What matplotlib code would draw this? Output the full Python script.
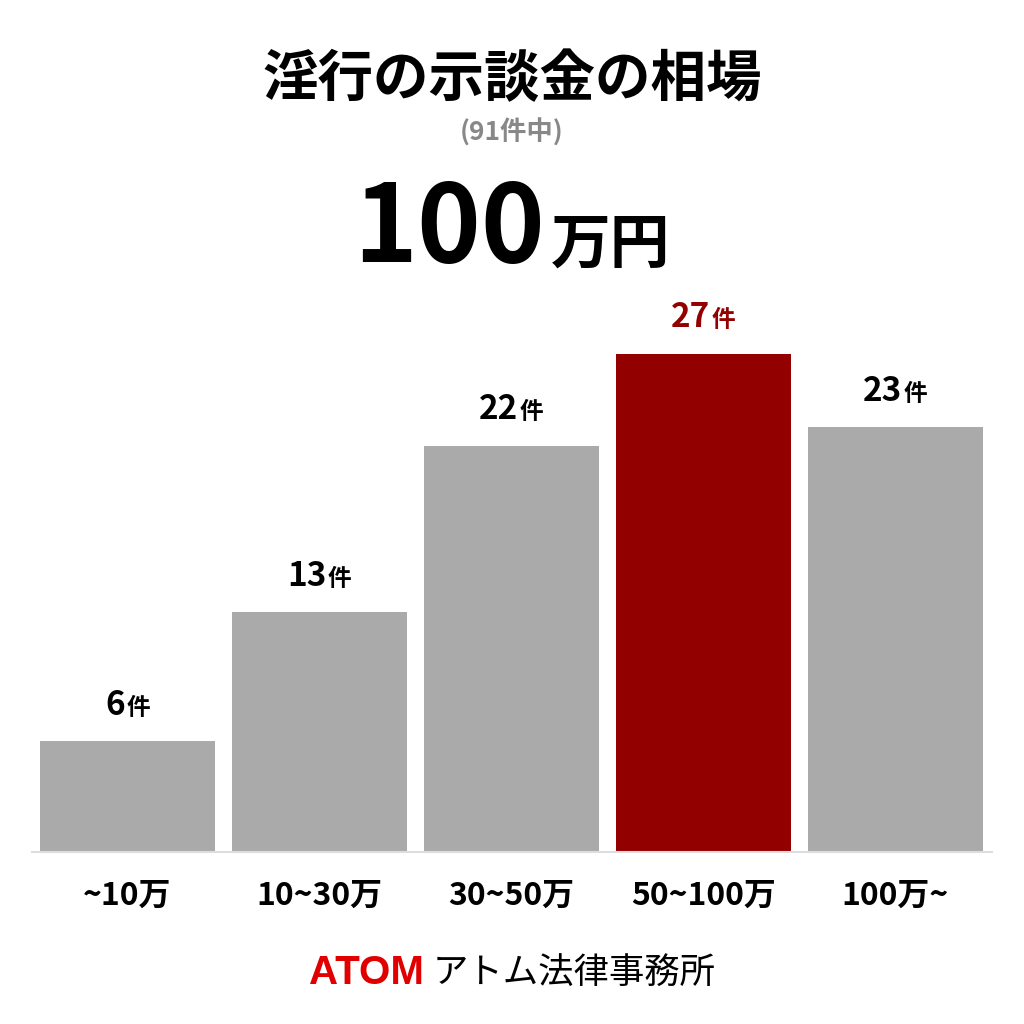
import matplotlib
matplotlib.use("Agg")
import matplotlib.pyplot as plt
from matplotlib.offsetbox import TextArea, HPacker, AnnotationBbox

plt.rcParams['font.family'] = ['Noto Sans CJK JP', 'DejaVu Sans']

# データ
categories = ['~10万', '10~30万', '30~50万', '50~100万', '100万~']
counts = [6, 13, 22, 27, 23]
highlight = 3  # 50~100万

gray = '#aaaaaa'
red = '#930000'

fig = plt.figure(figsize=(10.24, 10.24), dpi=100)
ax = fig.add_axes([31.5 / 1024, 1 - 852 / 1024, 960 / 1024, 552 / 1024])

colors = [red if i == highlight else gray for i in range(len(counts))]
ax.bar(range(len(counts)), counts, width=0.91, color=colors)

ax.set_xlim(-0.5, len(counts) - 0.5)
ax.set_ylim(0, 29.9)
for s in ['top', 'right', 'left']:
    ax.spines[s].set_visible(False)
ax.spines['bottom'].set_color('#dddddd')
ax.spines['bottom'].set_linewidth(1.5)
ax.set_yticks([])
ax.set_xticks(range(len(counts)))
ax.set_xticklabels(categories, fontsize=23, fontweight='bold')
ax.tick_params(axis='x', length=0, pad=20)

# 件数ラベル
for i, v in enumerate(counts):
    c = red if i == highlight else 'black'
    num = TextArea(str(v), textprops=dict(fontsize=24, fontweight='bold', color=c))
    unit = TextArea('件', textprops=dict(fontsize=17, fontweight='bold', color=c))
    box = HPacker(children=[num, unit], align='baseline', pad=0, sep=1)
    ab = AnnotationBbox(box, (i, v), xybox=(0, 14), xycoords='data',
                        boxcoords='offset points', box_alignment=(0.5, 0),
                        frameon=False)
    ax.add_artist(ab)

# タイトル
fig.text(0.5, 1 - 80 / 1024, '淫行の示談金の相場', ha='center', va='center',
         fontsize=40, fontweight='bold', color='black')
fig.text(0.5, 1 - 133 / 1024, '(91件中)', ha='center', va='center',
         fontsize=19, fontweight='bold', color='#888888')

big = TextArea('100', textprops=dict(fontsize=78, fontweight='bold', color='black'))
yen = TextArea('万円', textprops=dict(fontsize=43, fontweight='bold', color='black'))
hbox = HPacker(children=[big, yen], align='baseline', pad=0, sep=4)
fig.add_artist(AnnotationBbox(hbox, (0.5, 1 - 231 / 1024), xycoords='figure fraction',
                              box_alignment=(0.5, 0.5), frameon=False))

# フッター
atom = TextArea('ATOM', textprops=dict(fontsize=29, fontweight='heavy', color='#e00000',
                                       family='Liberation Sans'))
office = TextArea('アトム法律事務所', textprops=dict(fontsize=25.5, color='black'))
fbox = HPacker(children=[atom, office], align='baseline', pad=0, sep=6)
fig.add_artist(AnnotationBbox(fbox, (0.5, 1 - 973 / 1024), xycoords='figure fraction',
                              box_alignment=(0.5, 0.5), frameon=False))

fig.savefig('out.png', dpi=100, facecolor='white')
